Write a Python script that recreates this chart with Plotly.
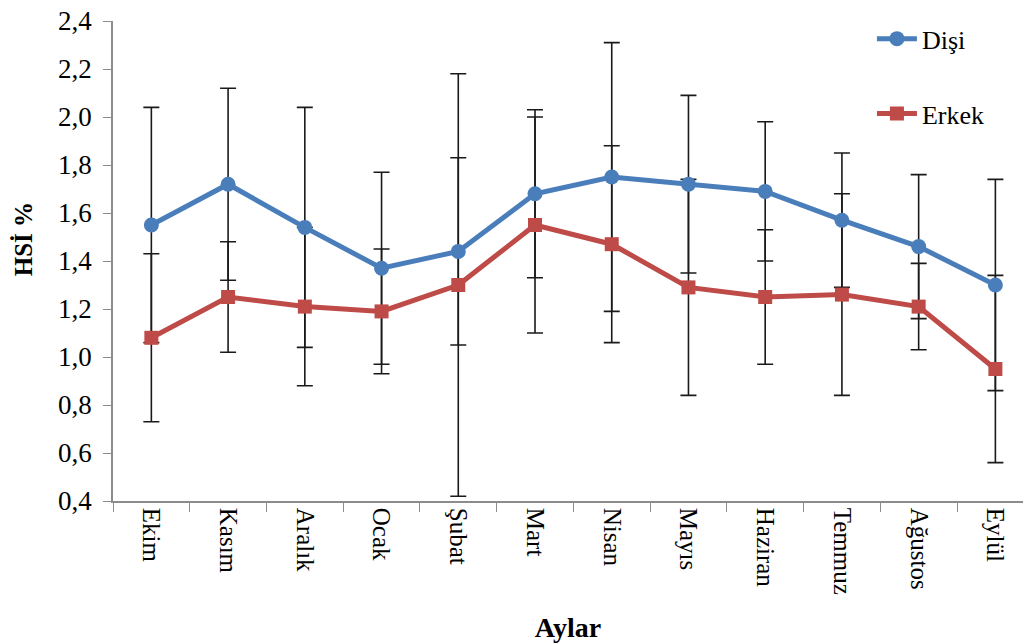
import plotly.graph_objects as go

# Monthly hepatosomatic index (HSİ %) by sex, with standard deviations
aylar = ["Ekim", "Kasım", "Aralık", "Ocak", "Şubat", "Mart",
         "Nisan", "Mayıs", "Haziran", "Temmuz", "Ağustos", "Eylül"]
disi = [1.55, 1.72, 1.54, 1.37, 1.44, 1.68, 1.75, 1.72, 1.69, 1.57, 1.46, 1.30]
disi_sd = [0.49, 0.40, 0.50, 0.40, 0.39, 0.35, 0.56, 0.37, 0.29, 0.28, 0.30, 0.44]
erkek = [1.08, 1.25, 1.21, 1.19, 1.30, 1.55, 1.47, 1.29, 1.25, 1.26, 1.21, 0.95]
erkek_sd = [0.35, 0.23, 0.33, 0.26, 0.88, 0.45, 0.41, 0.45, 0.28, 0.42, 0.18, 0.39]
y_ticks = [0.4, 0.6, 0.8, 1.0, 1.2, 1.4, 1.6, 1.8, 2.0, 2.2, 2.4]

BLUE = "#4A7EBB"
RED = "#BE4B48"
FONT = "'Liberation Serif', 'Times New Roman', Times, serif"

fig = go.Figure()

# error bars first so that every marker sits on top of them
for vals, sd in ((disi, disi_sd), (erkek, erkek_sd)):
    fig.add_trace(go.Scatter(
        x=aylar, y=vals, mode="markers",
        marker=dict(size=1, opacity=0),
        error_y=dict(type="data", array=sd, visible=True,
                     color="#1a1a1a", thickness=1.6, width=8),
        showlegend=False, hoverinfo="skip",
    ))

fig.add_trace(go.Scatter(
    x=aylar, y=disi, name="Dişi", mode="lines+markers",
    line=dict(color=BLUE, width=5),
    marker=dict(symbol="circle", size=15, color=BLUE),
    legendgroup="d",
))
fig.add_trace(go.Scatter(
    x=aylar, y=erkek, name="Erkek", mode="lines+markers",
    line=dict(color=RED, width=5),
    marker=dict(symbol="square", size=14, color=RED),
    legendgroup="e",
))

fig.update_layout(
    width=1023, height=643,
    margin=dict(l=113, r=0, t=21, b=142),
    paper_bgcolor="white", plot_bgcolor="white",
    separators=", ",
    font=dict(family=FONT, size=24, color="black"),
    showlegend=True,
    legend=dict(x=0.834, y=1.012, xanchor="left", yanchor="top",
                font=dict(family=FONT, size=26),
                tracegroupgap=38, traceorder="grouped",
                bgcolor="rgba(0,0,0,0)", itemwidth=40),
    annotations=[dict(
        text="<b>HSİ %</b>", textangle=-90,
        xref="paper", x=-0.099, xanchor="center",
        yref="paper", y=0.545, yanchor="middle",
        showarrow=False, font=dict(family=FONT, size=25),
    )],
)

fig.update_xaxes(
    type="category", range=[-0.5, 11.36],
    showline=True, linecolor="#8c8c8c", linewidth=1.5,
    ticks="outside", tickson="boundaries", ticklen=9, tickcolor="#8c8c8c",
    tickangle=90, tickfont=dict(family=FONT, size=25),
    showgrid=False, zeroline=False,
    title=dict(text="<b>Aylar</b>", font=dict(family=FONT, size=28), standoff=24),
)
fig.update_yaxes(
    range=[0.4, 2.4], tickvals=y_ticks, tickformat=".1f",
    showline=True, linecolor="#8c8c8c", linewidth=1.5,
    ticks="outside", ticklen=8, tickcolor="#8c8c8c",
    tickfont=dict(family=FONT, size=27), ticklabelstandoff=6,
    showgrid=False, zeroline=False,
)

fig.write_html("out.html")
